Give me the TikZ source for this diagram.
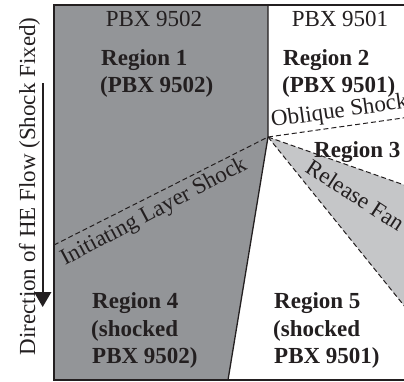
\documentclass[tikz,border=0pt]{standalone}
\usepackage{fontspec}
\setmainfont{Liberation Serif}
\usetikzlibrary{arrows.meta}
\definecolor{dgray}{HTML}{939598}
\definecolor{lgray}{HTML}{C5C6C8}
\definecolor{ink}{HTML}{231F20}
\begin{document}
\begin{tikzpicture}[x=1pt,y=-1pt,
  lbl/.style={font=\fontsize{23}{27}\selectfont, text=ink, inner sep=0pt, anchor=base west},
  blbl/.style={lbl, font=\fontsize{23}{27}\selectfont\bfseries},
  shockline/.style={draw=ink, line width=1pt, dash pattern=on 5pt off 3pt},
  wall/.style={draw=ink, line width=1.3pt},
  frameline/.style={draw=ink, line width=1.4pt}]
\useasboundingbox (0,0) rectangle (404,381);
\clip (0,0) rectangle (404,381);
% key points
\coordinate (tp) at (268,137);
\coordinate (tl) at (54,5);
\coordinate (tm) at (268,5);
\coordinate (bm) at (228,380);
\coordinate (bl) at (54,380);
\coordinate (tr) at (410,5);
\coordinate (br) at (410,380);
\coordinate (il) at (54,245);
\coordinate (ob) at (410,117);
\coordinate (fu) at (410,187);
\coordinate (fl) at (410,313);
% regions
\fill[dgray] (tl) -- (tm) -- (tp) -- (bm) -- (bl) -- cycle;
\fill[lgray] (tp) -- (fu) -- (fl) -- cycle;
% lines
\draw[wall] (tm) -- (tp) -- (bm);
\draw[shockline] (il) -- (tp);
\draw[shockline] (tp) -- (ob);
\draw[shockline] (tp) -- (fu);
\draw[shockline] (tp) -- (fl);
\draw[frameline] (tr) -- (tl) -- (bl) -- (br);
% arrow
\coordinate (at) at (42.7,83);
\coordinate (ah) at (42.7,307);
\draw[ink, line width=1.8pt, -{Triangle[length=15pt,width=17pt]}] (at) -- (ah);
\node[lbl, anchor=base, rotate=90] (dir) at (35,186.5) {Direction of HE Flow (Shock Fixed)};
% headers
\node[lbl, anchor=base] (h1) at (154,26) {PBX 9502};
\node[lbl, anchor=base] (h2) at (340,26) {PBX 9501};
% region labels
\node[blbl] (r1a) at (101,65) {Region 1};
\node[blbl] (r1b) at (100,92) {(PBX 9502)};
\node[blbl] (r2a) at (283,65) {Region 2};
\node[blbl] (r2b) at (282,92) {(PBX 9501)};
\node[blbl] (r3a) at (314,157) {Region 3};
\node[blbl] (r4a) at (92,308) {Region 4};
\node[blbl] (r4b) at (91,336) {(shocked};
\node[blbl] (r4c) at (92,363) {PBX 9502)};
\node[blbl] (r5a) at (274,308) {Region 5};
\node[blbl] (r5b) at (273,336) {(shocked};
\node[blbl] (r5c) at (274,363) {PBX 9501)};
% shock labels
\node[lbl, rotate=8] (obl) at (272,127) {Oblique Shock};
\node[lbl, rotate=28] (ini) at (65,266) {Initiating Layer Shock};
\node[lbl, rotate=-33] (rel) at (304,171) {Release Fan};
\end{tikzpicture}
\end{document}
